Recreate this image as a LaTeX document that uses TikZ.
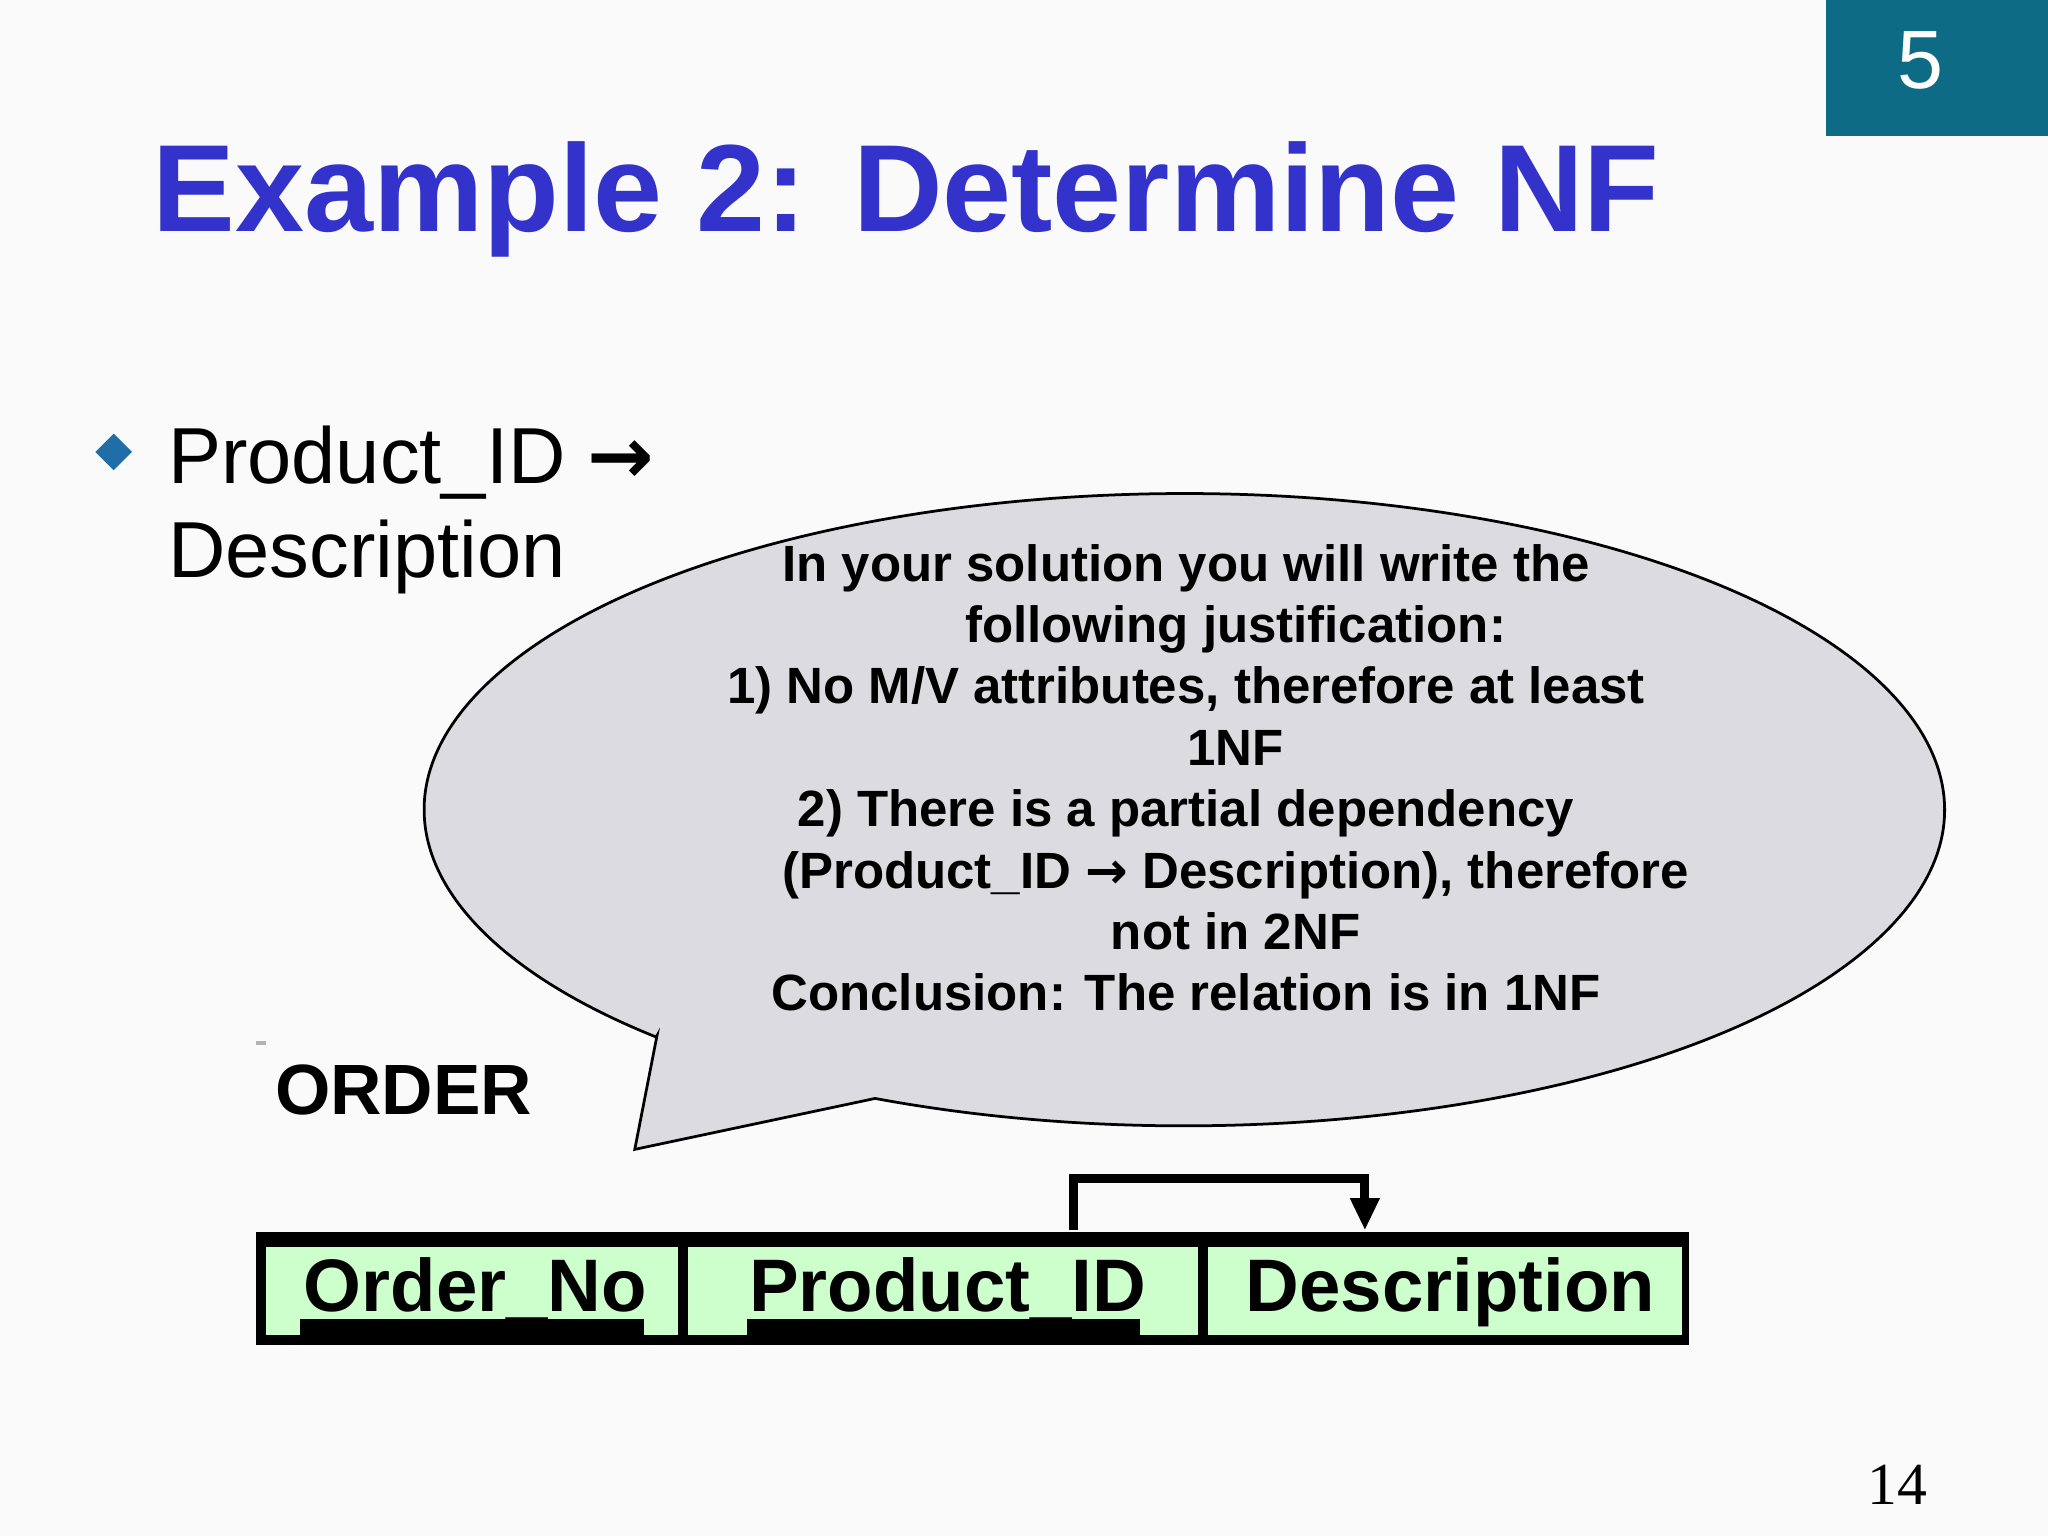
\documentclass[tikz,border=0pt]{standalone}
\usepackage{fontspec}
\setmainfont{Liberation Sans}
\usetikzlibrary{arrows.meta}
\definecolor{teal5}{HTML}{0E6B85}
\definecolor{titleblue}{HTML}{3333CC}
\definecolor{bulblue}{HTML}{1F6EA8}
\definecolor{bubble}{HTML}{DCDBDF}
\definecolor{cellgreen}{HTML}{CCFFCC}
\tikzset{
 bt/.style={font=\bfseries\fontsize{11.1}{13}\selectfont,anchor=base,inner sep=0},
 cell/.style={fill=cellgreen,draw=none},
 ct/.style={font=\bfseries\fontsize{16.2}{19}\selectfont,anchor=base west,inner sep=0}
}
\begin{document}
\begin{tikzpicture}[x=0.01cm,y=-0.01cm]
\useasboundingbox (0,0) rectangle (1568,1176);
\fill[white!98!black] (0,0) rectangle (1568,1176);
\fill[teal5] (1398,0) rectangle (1568,104);
\node[text=white,font=\fontsize{18}{22}\selectfont,anchor=base] (num) at (1470,68) {5};
\node[text=titleblue,font=\bfseries\fontsize{27}{32}\selectfont,anchor=base west,inner sep=0] (title) at (116,177) {Example 2: Determine NF};
\fill[bulblue] (87,332) -- (101,346) -- (87,360) -- (73,346) -- cycle;
\node[font=\fontsize{17.3}{21}\selectfont,anchor=base west,inner sep=0] (b1) at (128,370) {Product\_ID {\fontspec{DejaVu Sans}\bfseries →}};
\node[font=\fontsize{17.3}{21}\selectfont,anchor=base west,inner sep=0] (b2) at (128,442) {Description};
% bubble
\draw[fill=bubble,line width=0.6pt] (503,793) -- (486,880) -- (670,841)
  arc[start angle=114,end angle=-226,x radius=582,y radius=242] -- cycle;
\node[bt] (l1) at (908,445) {In your solution you will write the};
\node[bt] (l2) at (946,492) {following justification:};
\node[bt] (l3) at (908,539) {1) No M/V attributes, therefore at least};
\node[bt] (l4) at (946,586) {1NF};
\node[bt] (l5) at (908,633) {2) There is a partial dependency};
\node[bt] (l6) at (946,680) {(Product\_ID {\fontspec{DejaVu Sans}\bfseries →} Description), therefore};
\node[bt] (l7) at (946,727) {not in 2NF};
\node[bt] (l8) at (908,774) {Conclusion: The relation is in 1NF};
\node[font=\bfseries\fontsize{15.5}{18}\selectfont,anchor=base west,inner sep=0] (order) at (210,853) {ORDER};
\fill[gray!60] (196,797) rectangle (204,800);
% table
\fill (196,943) rectangle (1293,1030);
\fill[cell] (204,955) rectangle (519,1022);
\fill[cell] (527,955) rectangle (917,1022);
\fill[cell] (925,955) rectangle (1288,1022);
\node[ct] (c1) at (232,1004) {Order\_No};
\node[ct] (c2) at (573,1004) {Product\_ID};
\node[ct] (c3) at (953,1004) {Description};
\draw[line width=4pt] (230,1017) -- (493,1017);
\draw[line width=4pt] (572,1017) -- (873,1017);
\coordinate (fa) at (822,942);
\coordinate (fb) at (1045,942);
\draw[line width=2pt,-{Triangle[length=7pt,width=6pt]}] (fa) |- (933,902) -| (fb);
\node[font=\fontspec{Liberation Serif}\fontsize{13}{16}\selectfont,anchor=base] (pg) at (1453,1152) {14};
\end{tikzpicture}
\end{document}
